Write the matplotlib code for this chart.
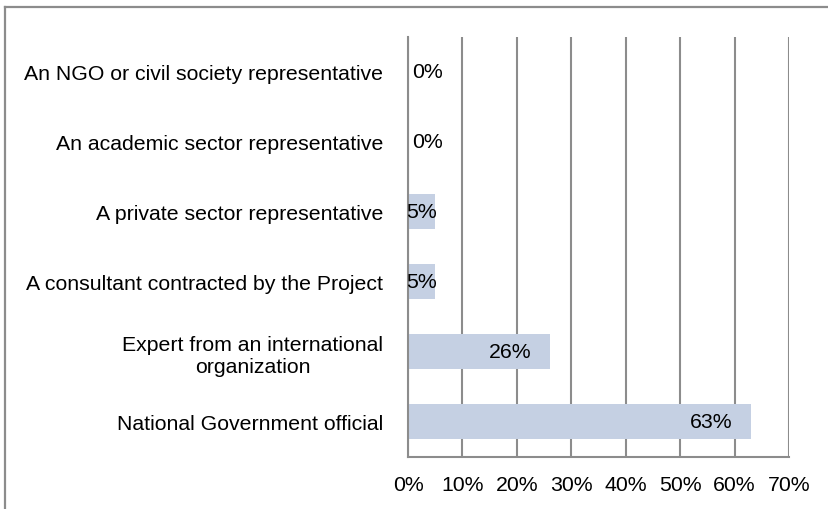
import matplotlib
matplotlib.use("Agg")
from matplotlib import pyplot as plt
from matplotlib.lines import Line2D
from matplotlib.ticker import FuncFormatter

# survey answers, bottom row first
categories = [
    "National Government official",
    "Expert from an international\norganization",
    "A consultant contracted by the Project",
    "A private sector representative",
    "An academic sector representative",
    "An NGO or civil society representative",
]
shares = [63, 26, 5, 5, 0, 0]
xticks = [0, 10, 20, 30, 40, 50, 60, 70]

bar_color = "#C5D0E3"
grid_color = "#8C8C8C"

plt.rcParams["font.family"] = ["Liberation Sans", "DejaVu Sans"]
plt.rcParams["font.size"] = 15.3

fig = plt.figure(figsize=(8.29, 5.10), dpi=100)
ax = fig.add_axes([0.4922, 0.1020, 0.4595, 0.8235])

ypos = range(len(categories))
ax.barh(ypos, shares, height=0.5, color=bar_color, zorder=2)

for y, v in zip(ypos, shares):
    label = f"{v}%"
    if v >= 10:
        ax.annotate(label, (v, y), xytext=(-13, 0), textcoords="offset points",
                    ha="right", va="center", zorder=3)
    elif v > 0:
        ax.annotate(label, (v / 2, y), ha="center", va="center", zorder=3)
    else:
        ax.annotate(label, (0, y), xytext=(3, 0), textcoords="offset points",
                    ha="left", va="center", zorder=3)

ax.set_xlim(0, 70)
ax.set_ylim(-0.5, len(categories) - 0.5)
ax.set_xticks(xticks)
ax.xaxis.set_major_formatter(FuncFormatter(lambda v, p: f"{v:.0f}%"))
ax.set_yticks(list(ypos))
ax.set_yticklabels(categories, multialignment="center")
ax.tick_params(axis="both", length=0)
ax.tick_params(axis="x", pad=13)
ax.tick_params(axis="y", pad=18)

ax.grid(axis="x", color=grid_color, linewidth=1.5, zorder=1)
for side in ["top", "right"]:
    ax.spines[side].set_visible(False)
for side in ["left", "bottom"]:
    ax.spines[side].set_color(grid_color)
    ax.spines[side].set_linewidth(1.5)

# outer chart frame, only top and left edges show
fig.add_artist(Line2D([0.006, 1.0], [0.984, 0.984], color=grid_color, linewidth=1.6,
                      transform=fig.transFigure))
fig.add_artist(Line2D([0.006, 0.006], [0.0, 0.984], color=grid_color, linewidth=1.6,
                      transform=fig.transFigure))

fig.savefig("out.png", dpi=100)
